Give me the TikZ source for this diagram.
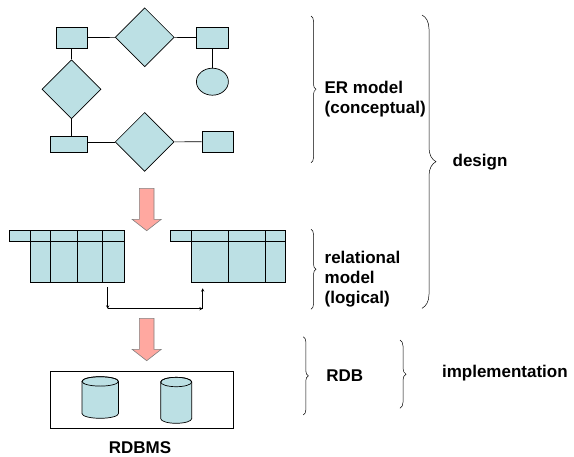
\documentclass[tikz,border=0pt]{standalone}
\usepackage{fontspec}
\setmainfont{Liberation Sans}
\usetikzlibrary{shapes.geometric,decorations.pathreplacing}

\definecolor{erfill}{RGB}{188,224,228}
\definecolor{arrowfill}{RGB}{255,168,160}

\tikzset{
    entity/.style={draw, fill=erfill, rectangle, inner sep=0pt},
    relation/.style={draw, fill=erfill, diamond, aspect=1, inner sep=0pt,
        minimum width=59, minimum height=59},
    attribute/.style={draw, fill=erfill, ellipse, inner sep=0pt,
        minimum width=32, minimum height=27},
    label/.style={font=\bfseries\fontsize{17}{20}\selectfont, align=left,
        anchor=west, inner sep=0pt},
    curly/.style={decorate, decoration={brace, amplitude=#1}, line width=0.5pt},
    bigarrow/.style={draw=gray, fill=arrowfill, line width=0.6pt},
}

\begin{document}
\begin{tikzpicture}[x=1pt, y=-1pt, >=stealth, line width=0.7pt]
    \useasboundingbox (0,0) rectangle (574,456);

    % ER model (conceptual)
    \node[entity, minimum width=31, minimum height=21] (e1) at (71.5,37.5) {};
    \node[relation] (r1) at (144.7,37.3) {};
    \node[entity, minimum width=31.6, minimum height=21] (e2) at (212.5,37.5) {};
    \node[attribute] (a1) at (212.4,81.7) {};
    \node[relation] (r2) at (71.5,89.3) {};
    \node[entity, minimum width=36.6, minimum height=15.7] (e3) at (69,144.5) {};
    \node[relation] (r3) at (144.7,141.9) {};
    \node[entity, minimum width=31.3, minimum height=21] (e4) at (217.7,141.8) {};

    \draw (e1) -- (r1);
    \draw (r1) -- (e2);
    \draw (e2) -- (a1);
    \draw (e1) -- (r2);
    \draw (r2.south) -- (r2.south |- e3.north);
    \draw (e3.east |- r3) -- (r3);
    \draw (r3) -- (e4);

    % arrows between the levels
    \foreach \ytop in {188.3, 318.3} {
        \draw[bigarrow] (139.3,\ytop) -- (154,\ytop) -- (154,\ytop+31)
            -- (161.3,\ytop+31) -- (146.7,\ytop+42.4) -- (132.1,\ytop+31)
            -- (139.3,\ytop+31) -- cycle;
    }

    % relational model (logical)
    \draw[fill=erfill] (9,230.7) rectangle (124,241);
    \draw[fill=erfill] (30,241) rectangle (124,282.3);
    \foreach \x in {30, 50.7, 77, 102.7}
        \draw (\x,230.7) -- (\x,282.3);

    \draw[fill=erfill] (170.7,230.7) rectangle (285.7,241);
    \draw[fill=erfill] (191.3,241) rectangle (285.7,282.3);
    \foreach \x in {191.3, 228.3, 265}
        \draw (\x,230.7) -- (\x,282.3);

    % foreign key link
    \coordinate (fkL) at (107.7,287.3);
    \coordinate (fkR) at (202.7,288.3);
    \coordinate (fkB) at (107.7,308.7);
    \draw[->, line width=0.5pt] (fkL) -- (fkB);
    \draw[->, line width=0.5pt] (fkB) -- (fkB -| fkR);
    \draw[->, line width=0.5pt] (fkB -| fkR) -- (fkR);

    % RDB
    \draw[line width=0.6pt] (50.7,371.7) rectangle (233.3,428.7);
    \foreach \cx/\rx/\yt/\yb in {100.2/18.2/376.7/418.3, 176.2/15.5/377.3/423.3} {
        \draw[fill=erfill] (\cx-\rx,\yt+4.7) -- (\cx-\rx,\yb-4.7)
            arc[start angle=180, end angle=0, x radius=\rx, y radius=4.7]
            -- (\cx+\rx,\yt+4.7)
            arc[start angle=0, end angle=-180, x radius=\rx, y radius=4.7] -- cycle;
        \draw (\cx,\yt+4.7) ellipse[x radius=\rx, y radius=4.7];
    }
    \node[font=\bfseries\fontsize{17}{20}\selectfont, inner sep=0pt] (rdbms)
        at (140,447.5) {RDBMS};

    % braces and labels on the right
    \draw[curly=5] (311,16) -- (311,162.7);
    \node[label] (er) at (324.3,99) {ER model\\(conceptual)};
    \draw[curly=5] (311,229.3) -- (311,309.3);
    \node[label] (rel) at (324.3,279.5) {relational\\model\\(logical)};
    \draw[curly=14] (422,15) -- (422,308.3);
    \node[label] (design) at (452.3,162.3) {design};

    \draw[curly=5] (303.3,336.7) -- (303.3,415);
    \node[label] (rdb) at (326,376) {RDB};
    \draw[curly=6] (400,340) -- (400,408.3);
    \node[label] (impl) at (441.7,373.3) {implementation};
\end{tikzpicture}
\end{document}
